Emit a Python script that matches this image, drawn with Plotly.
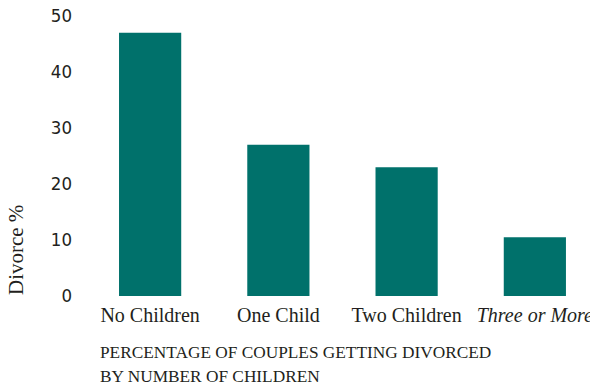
import plotly.graph_objects as go

categories = ["No Children", "One Child", "Two Children", "Three or More"]
tick_labels = ["No Children", "One Child", "Two Children", "<i>Three or More</i>"]
divorce_pct = [47, 27, 23, 10.5]
y_ticks = [0, 10, 20, 30, 40, 50]

TEXT = "#231F20"
TEAL = "#00716B"
SERIF = "Liberation Serif, Times New Roman, serif"
NARROW = "DejaVu Sans Condensed, Liberation Sans Narrow, Roboto Condensed, Roboto"

fig = go.Figure(go.Bar(
    x=list(range(len(categories))),
    y=divorce_pct,
    marker=dict(color=TEAL, line=dict(width=0)),
    width=0.485,
    hoverinfo="skip",
))

fig.update_layout(
    width=590, height=388,
    margin=dict(l=86, r=0, t=16, b=92, autoexpand=False),
    paper_bgcolor="white", plot_bgcolor="white",
    showlegend=False,
    xaxis=dict(
        range=[-0.5, 3.43], automargin=False, ticklabeloverflow="allow",
        tickmode="array", tickvals=list(range(len(categories))), ticktext=tick_labels,
        showgrid=False, zeroline=False, showline=False, ticks="",
        tickfont=dict(family=SERIF, size=20, color=TEXT),
        ticklabelstandoff=5,
    ),
    yaxis=dict(
        range=[0, 50], automargin=False,
        tickmode="array", tickvals=y_ticks,
        showgrid=False, zeroline=False, showline=False, ticks="",
        tickfont=dict(family=NARROW, size=18.5, color=TEXT),
        ticklabelstandoff=13,
    ),
    annotations=[
        dict(text="Divorce %", textangle=-90, xref="paper", yref="paper",
             x=-0.139, y=0.164, xanchor="center", yanchor="middle", showarrow=False,
             font=dict(family=SERIF, size=21, color=TEXT)),
        dict(text="PERCENTAGE OF COUPLES GETTING DIVORCED", xref="paper", yref="paper",
             x=0.0238, y=-0.2, xanchor="left", yanchor="middle", showarrow=False,
             font=dict(family=SERIF, size=17.3, color=TEXT)),
        dict(text="BY NUMBER OF CHILDREN", xref="paper", yref="paper",
             x=0.0238, y=-0.289, xanchor="left", yanchor="middle", showarrow=False,
             font=dict(family=SERIF, size=17.3, color=TEXT)),
    ],
)

fig.write_html("out.html", config={"displayModeBar": False},
               post_script="document.body.style.margin='0';")
